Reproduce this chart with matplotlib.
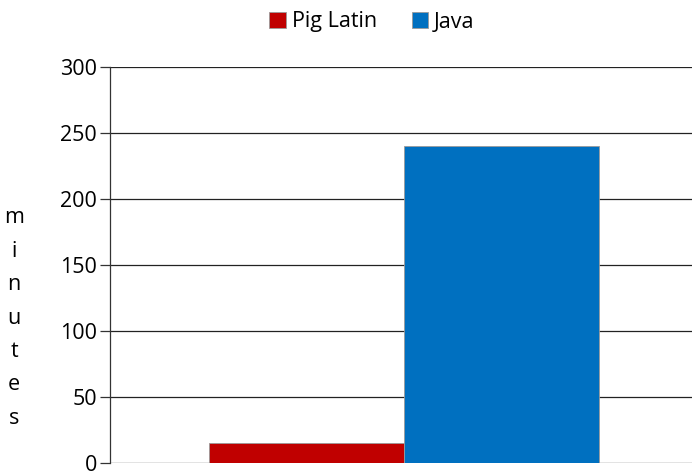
import matplotlib.pyplot as plt

series = ['Pig Latin', 'Java']
minutes = [15, 240]
colors = ['#C00000', '#0070C0']
yticks = [0, 50, 100, 150, 200, 250, 300]

plt.rcParams['font.family'] = ['Open Sans', 'DejaVu Sans']
fs = 15.5

fig = plt.figure(figsize=(6.92, 4.72), dpi=100)
ax = fig.add_axes([110 / 692, 9 / 472, 582 / 692, 396 / 472])

offsets = [-0.5, 0.5]
for name, val, col, off in zip(series, minutes, colors, offsets):
    ax.bar(off, val, width=1.0, color=col, edgecolor='#9a9a9a', linewidth=0.6,
           label=name, zorder=3)

ax.set_xlim(-1.508, 1.477)
ax.set_ylim(0, 300)
ax.set_yticks(yticks)
ax.set_xticks([])
ax.yaxis.grid(True, color='#222222', linewidth=0.9, zorder=0)
ax.tick_params(axis='y', length=7.2, width=0.9, color='#333333', labelsize=fs, pad=2)
for s in ['top', 'right', 'bottom']:
    ax.spines[s].set_visible(False)
ax.spines['left'].set_color('#333333')
ax.spines['left'].set_linewidth(0.9)

# stacked vertical axis title
fig.text(14 / 692, 1 - 318 / 472, '\n'.join('minutes'), ha='center', va='center',
         fontsize=fs, linespacing=1.78)

fig.legend(loc='center', bbox_to_anchor=(372 / 692, 1 - 22 / 472), ncol=2, frameon=False,
           fontsize=fs, handlelength=0.75, handleheight=0.75, handletextpad=0.3,
           columnspacing=1.6, borderpad=0)

fig.savefig('out.png', dpi=100)
